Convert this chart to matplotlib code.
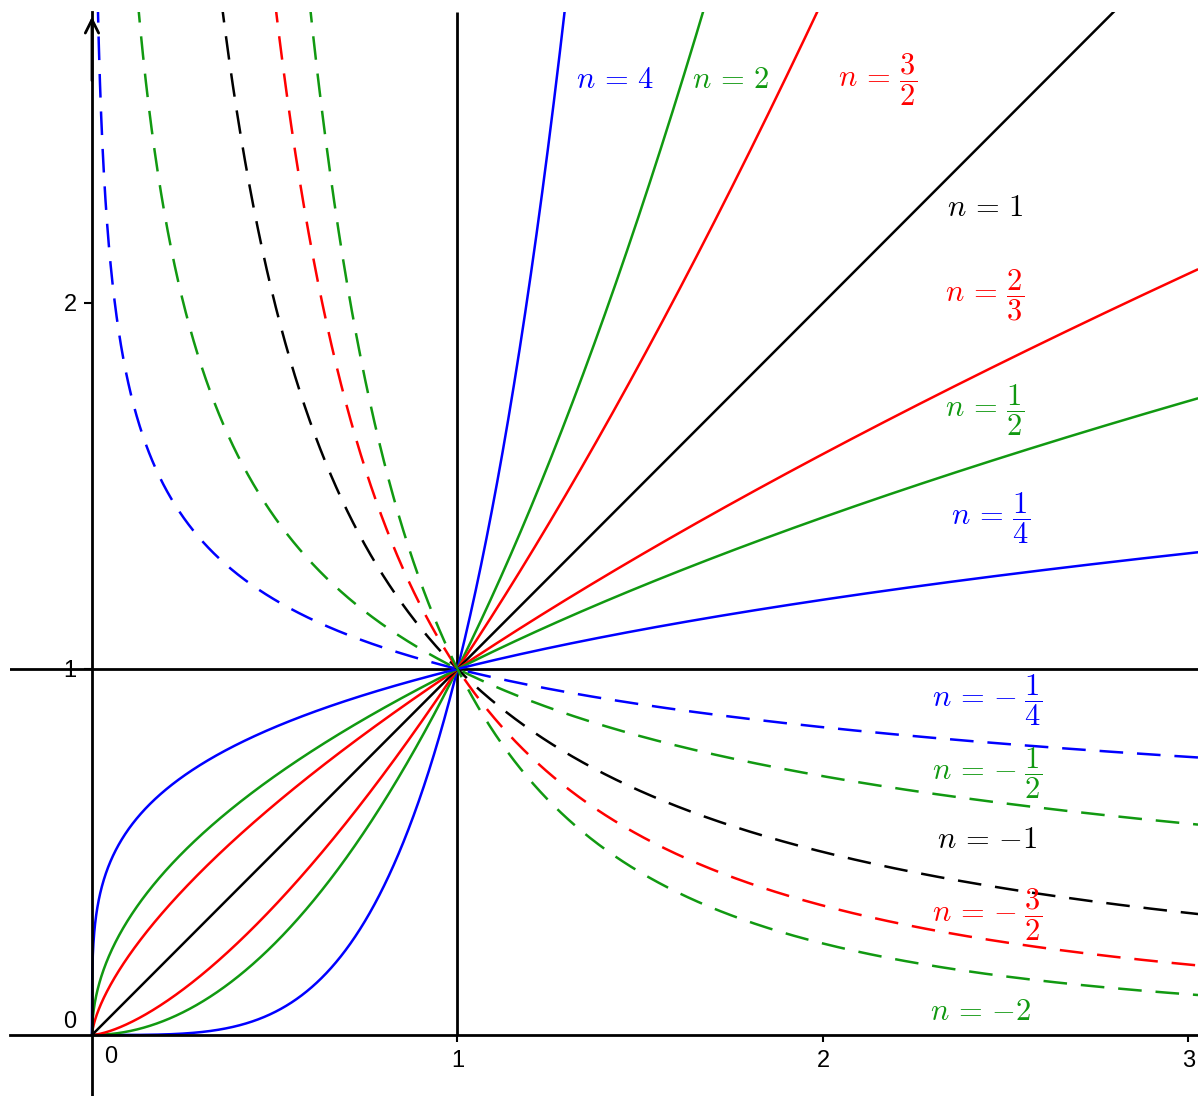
import numpy as np
import matplotlib
matplotlib.use("Agg")
import matplotlib.pyplot as plt

plt.rcParams['mathtext.fontset'] = 'cm'
plt.rcParams['font.family'] = ['Liberation Sans', 'DejaVu Sans']
plt.rcParams['lines.scale_dashes'] = False

# Exponents of y = x^n
pos_exponents = [4, 2, 3/2, 1, 2/3, 1/2, 1/4]
neg_exponents = [-1/4, -1/2, -1, -3/2, -2]
pos_labels = [r'$n \,=\, 4$', r'$n \,=\, 2$', r'$n \,=\, \dfrac{3}{2}$', r'$n \,=\, 1$',
              r'$n \,=\, \dfrac{2}{3}$', r'$n \,=\, \dfrac{1}{2}$', r'$n \,=\, \dfrac{1}{4}$']
neg_labels = [r'$n \,=\, {-}\;\dfrac{1}{4}$', r'$n \,=\, {-}\;\dfrac{1}{2}$', r'$n \,=\, {-}1$',
              r'$n \,=\, {-}\;\dfrac{3}{2}$', r'$n \,=\, {-}2$']
# label anchor points (data coords)
pos_label_x = [1.431, 1.748, 2.150, 2.443, 2.443, 2.443, 2.457]
pos_label_y = [2.609, 2.609, 2.609, 2.260, 2.022, 1.708, 1.413]
neg_label_x = [2.450, 2.450, 2.450, 2.450, 2.43]
neg_label_y = [0.915, 0.716, 0.533, 0.328, 0.063]

BLUE, GREEN, RED, BLACK = '#0000ff', '#119911', '#ff0000', '#000000'
pos_colors = [BLUE, GREEN, RED, BLACK, RED, GREEN, BLUE]
neg_colors = [BLUE, GREEN, BLACK, RED, GREEN]

W, H = 1198, 1096
fig = plt.figure(figsize=(W / 100, H / 100), dpi=100)
ax = fig.add_axes([10 / W, 0, 1 - 10 / W, 1 - 12 / H])
ax.set_xlim(-0.2243, 3.026)
ax.set_ylim(-0.1667, 2.795)

lw = 1.8
# reference lines x=1, y=1
ax.axhline(1, color='black', lw=2.0, zorder=2)
ax.vlines(1, 0, 2.795, color='black', lw=2.0, zorder=2)

xs = np.linspace(0, 3.1, 4000)
for n, c in zip(pos_exponents, pos_colors):
    ax.plot(xs, xs ** n, color=c, lw=lw, zorder=3, solid_capstyle='butt')

xn = np.linspace(0.001, 3.1, 20000)
for n, c in zip(neg_exponents, neg_colors):
    ax.plot(xn, xn ** n, color=c, lw=lw, zorder=3,
            linestyle=(0, (17, 10)), dash_capstyle='butt')

for t, x, y, c in zip(pos_labels, pos_label_x, pos_label_y, pos_colors):
    ax.text(x, y, t, color=c, fontsize=22, ha='center', va='center', zorder=5)
for t, x, y, c in zip(neg_labels, neg_label_x, neg_label_y, neg_colors):
    ax.text(x, y, t, color=c, fontsize=22, ha='center', va='center', zorder=5)

# axes through origin
for s in ['top', 'right']:
    ax.spines[s].set_visible(False)
ax.spines['left'].set_position(('data', 0))
ax.spines['bottom'].set_position(('data', 0))
ax.spines['left'].set_linewidth(2.0)
ax.spines['bottom'].set_linewidth(2.0)
ax.spines['left'].set_zorder(4)
ax.spines['bottom'].set_zorder(4)
ax.set_xticks([1, 2, 3])
ax.set_xticklabels(['1', '2', '3'])
ax.set_yticks([1, 2])
ax.set_yticklabels(['1', '2'])
ax.tick_params(axis='x', direction='out', length=5, width=1.5, pad=6, labelsize=17)
ax.tick_params(axis='y', direction='out', length=6, width=1.5, pad=5, labelsize=17)
for lab in ax.get_yticklabels():
    lab.set_zorder(6)
ax.text(0.05, -0.06, '0', fontsize=17, ha='center', va='center')
ax.text(-0.06, 0.035, '0', fontsize=17, ha='center', va='center')

# arrow on y axis
ax.annotate('', xy=(0, 2.79), xytext=(0, 2.6),
            arrowprops=dict(arrowstyle='->', color='black', lw=2.0,
                            mutation_scale=24), zorder=6)

fig.savefig('out.png', dpi=100)
